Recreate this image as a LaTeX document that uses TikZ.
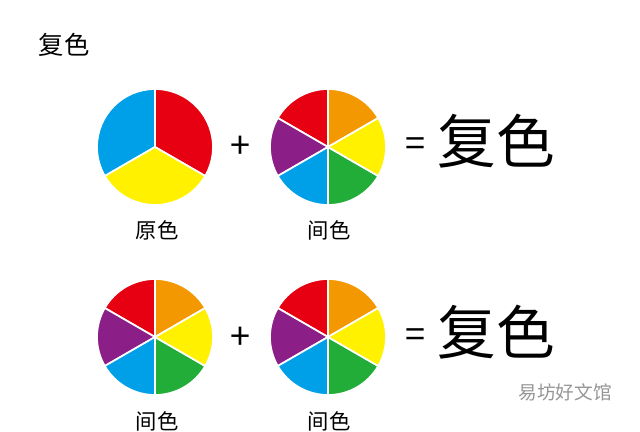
\documentclass[tikz,border=0pt]{standalone}
\usepackage{fontspec}
\newfontfamily\cjk{Noto Sans CJK SC}
\definecolor{wheelred}{RGB}{230,0,18}
\definecolor{wheelblue}{RGB}{0,160,233}
\definecolor{wheelyellow}{RGB}{255,241,0}
\definecolor{wheelorange}{RGB}{243,152,0}
\definecolor{wheelgreen}{RGB}{34,172,56}
\definecolor{wheelpurple}{RGB}{140,30,135}
\definecolor{markgray}{RGB}{150,150,150}
\tikzset{
  sector/.style={draw=white,line width=1.3pt,line join=round},
  caption/.style={font=\cjk\fontsize{16}{18}\selectfont},
  bigword/.style={font=\cjk\fontsize{44}{48}\selectfont},
  sign/.style={font=\cjk\fontsize{27}{30}\selectfont}
}
% six-part wheel, 30 deg steps starting at the orange part
\newcommand{\sixwheel}[1]{%
  \begin{scope}[shift={#1},yscale=-1]
    \foreach \a/\c in {30/wheelorange,90/wheelred,150/wheelpurple,210/wheelblue,270/wheelgreen,330/wheelyellow}
      \filldraw[sector,fill=\c] (0,0) -- (\a:58) arc[start angle=\a,delta angle=60,radius=58] -- cycle;
  \end{scope}}

\begin{document}
\begin{tikzpicture}[x=0.75pt,y=0.75pt,yscale=-1,xscale=1]
\clip (0,0) rectangle (640,432);
\fill[white] (0,0) rectangle (640,432);

%Title
\node[font=\cjk\fontsize{19}{21}\selectfont] (title) at (64,45) {复色};

%Shape: three-part wheel
\begin{scope}[shift={(155,147)},yscale=-1]
  \filldraw[sector,fill=wheelred] (0,0) -- (-30:58) arc[start angle=-30,end angle=90,radius=58] -- cycle;
  \filldraw[sector,fill=wheelblue] (0,0) -- (90:58) arc[start angle=90,end angle=210,radius=58] -- cycle;
  \filldraw[sector,fill=wheelyellow] (0,0) -- (210:58) arc[start angle=210,end angle=330,radius=58] -- cycle;
\end{scope}

%Shape: six-part wheels
\sixwheel{(328,147)}
\sixwheel{(155,337)}
\sixwheel{(328,337)}

% Text Node
\node[sign] (plustop) at (240,147) {+};
% Text Node
\node[sign] (plusbot) at (240,338) {+};
% Text Node
\node[sign] (eqtop) at (415,147) {=};
% Text Node
\node[sign] (eqbot) at (415,338) {=};
% Text Node
\node[bigword] (mixtop) at (496,141) {复色};
% Text Node
\node[bigword] (mixbot) at (496,332) {复色};
% Text Node
\node[caption] (primary) at (157,230) {原色};
% Text Node
\node[caption] (secondtop) at (329,230) {间色};
% Text Node
\node[caption] (secondleft) at (157,421) {间色};
% Text Node
\node[caption] (secondright) at (329,421) {间色};
% Text Node
\node[font=\cjk\fontsize{14}{16}\selectfont,text=markgray] (mark) at (565,392) {易坊好文馆};

\end{tikzpicture}
\end{document}
